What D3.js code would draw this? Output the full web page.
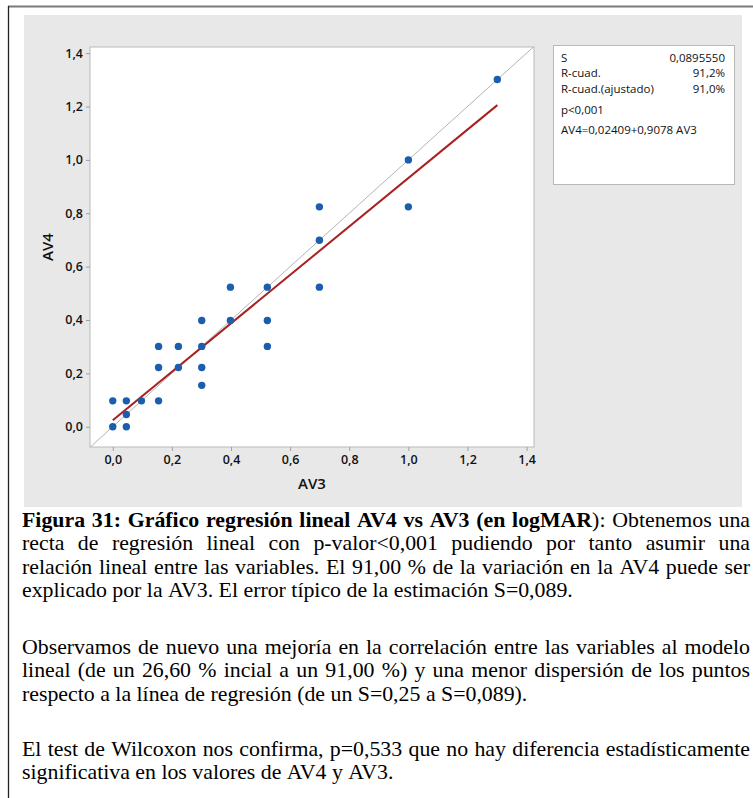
<!DOCTYPE html>
<html>
<head>
<meta charset="utf-8">
<script src="https://cdn.jsdelivr.net/npm/d3@7"></script>
<style>
  html, body { margin: 0; padding: 0; background: #fff; }
  svg { display: block; }
</style>
</head>
<body>
<svg id="fig" width="753" height="798"></svg>
<script>
// Visual acuity pairs in logMAR (AV3 on x, AV4 on y)
const av3 = [0, 0, 0.046, 0.046, 0.046, 0.097, 0.155, 0.155, 0.155, 0.222, 0.222,
             0.301, 0.301, 0.301, 0.301, 0.398, 0.398, 0.523, 0.523, 0.523,
             0.699, 0.699, 0.699, 1.0, 1.0, 1.301];
const av4 = [0, 0.097, 0.097, 0.046, 0, 0.097, 0.301, 0.222, 0.097, 0.301, 0.222,
             0.398, 0.301, 0.222, 0.155, 0.523, 0.398, 0.523, 0.398, 0.301,
             0.523, 0.824, 0.699, 1.0, 0.824, 1.301];

// Fitted regression
const fitIntercept = 0.02409;
const fitSlope = 0.9078;

// Axis ticks
const tickValues = [0, 0.2, 0.4, 0.6, 0.8, 1.0, 1.2, 1.4];
const xTitle = "AV3";
const yTitle = "AV4";

// Summary box
const statLabels = ["S", "R-cuad.", "R-cuad.(ajustado)"];
const statValues = ["0,0895550", "91,2%", "91,0%"];
const pLabel = "p<0,001";
const equation = "AV4=0,02409+0,9078 AV3";

// Caption: each line is a list of [text, bold] segments; last line of a paragraph is not justified
const paragraph1 = [
  [["Figura 31: Gráfico regresión lineal AV4 vs AV3 (en logMAR", true], ["): Obtenemos una", false]],
  [["recta de regresión lineal con p-valor<0,001 pudiendo por tanto asumir una", false]],
  [["relación lineal entre las variables. El 91,00 % de la variación en la AV4 puede ser", false]],
  [["explicado por la AV3. El error típico de la estimación S=0,089.", false]]
];
const paragraph2 = [
  [["Observamos de nuevo una mejoría en la correlación entre las variables al modelo", false]],
  [["lineal (de un 26,60 % incial a un 91,00 %) y una menor dispersión de los puntos", false]],
  [["respecto a la línea de regresión (de un S=0,25 a S=0,089).", false]]
];
const paragraph3 = [
  [["El test de Wilcoxon nos confirma, p=0,533 que no hay diferencia estadísticamente", false]],
  [["significativa en los valores de AV4 y AV3.", false]]
];

const svg = d3.select("#fig");
const chartFont = "'Open Sans', 'Noto Sans', sans-serif";

// Page frame
svg.append("line").attr("x1", 8).attr("x2", 753).attr("y1", 6.5).attr("y2", 6.5)
  .attr("stroke", "#7a7a7a").attr("stroke-width", 2);
svg.append("line").attr("x1", 8.5).attr("x2", 8.5).attr("y1", 6).attr("y2", 798)
  .attr("stroke", "#222").attr("stroke-width", 1.3);

// Graph panel background
svg.append("rect").attr("x", 24).attr("y", 15).attr("width", 718).attr("height", 492)
  .attr("fill", "#e8e8e8");

// Plot region
const plot = { left: 90, right: 534, top: 47, bottom: 447 };
const x = d3.scaleLinear().domain([-0.077, 1.425]).range([plot.left, plot.right]);
const y = d3.scaleLinear().domain([-0.076, 1.423]).range([plot.bottom, plot.top]);

svg.append("rect")
  .attr("x", plot.left).attr("y", plot.top)
  .attr("width", plot.right - plot.left).attr("height", plot.bottom - plot.top)
  .attr("fill", "#fff").attr("stroke", "#b9b9b9").attr("stroke-width", 1);

const fmt = v => d3.format(".1f")(v).replace(".", ",");

const xAxis = svg.append("g")
  .attr("transform", `translate(0,${plot.bottom})`)
  .call(d3.axisBottom(x).tickValues(tickValues).tickFormat(fmt).tickSize(4).tickPadding(4));
const yAxis = svg.append("g")
  .attr("transform", `translate(${plot.left},0)`)
  .call(d3.axisLeft(y).tickValues(tickValues).tickFormat(fmt).tickSize(4).tickPadding(3));

[xAxis, yAxis].forEach(g => {
  g.select(".domain").remove();
  g.selectAll(".tick line").attr("stroke", "#a0a0a0");
  g.selectAll(".tick text")
    .attr("fill", "#111")
    .style("font-family", chartFont)
    .style("font-size", "12.5px")
    .style("font-weight", 600);
});

// Axis titles
svg.append("text")
  .attr("x", (plot.left + plot.right) / 2).attr("y", 489)
  .attr("text-anchor", "middle")
  .style("font-family", chartFont).style("font-size", "15px").style("font-weight", 600)
  .attr("fill", "#111")
  .text(xTitle);
svg.append("text")
  .attr("transform", `translate(53,${(plot.top + plot.bottom) / 2}) rotate(-90)`)
  .attr("text-anchor", "middle")
  .style("font-family", chartFont).style("font-size", "15px").style("font-weight", 600)
  .attr("fill", "#111")
  .text(yTitle);

// Identity reference line across the plot
const dLo = Math.max(x.domain()[0], y.domain()[0]);
const dHi = Math.min(x.domain()[1], y.domain()[1]);
svg.append("line")
  .attr("x1", x(dLo)).attr("y1", y(dLo))
  .attr("x2", x(dHi)).attr("y2", y(dHi))
  .attr("stroke", "#b4b4b4").attr("stroke-width", 1);

// Regression line over the observed AV3 range
const [xMin, xMax] = d3.extent(av3);
const fitLine = d3.line().x(d => x(d)).y(d => y(fitIntercept + fitSlope * d));
svg.append("path")
  .attr("d", fitLine([xMin, xMax]))
  .attr("fill", "none").attr("stroke", "#a8201f").attr("stroke-width", 2);

// Observations
svg.append("g").selectAll("circle")
  .data(av3.map((v, i) => [v, av4[i]]))
  .join("circle")
  .attr("cx", d => x(d[0])).attr("cy", d => y(d[1]))
  .attr("r", 3.7)
  .attr("fill", "#1a5ead");

// Summary box
const box = { x: 553, y: 45, w: 181, h: 139 };
svg.append("rect")
  .attr("x", box.x + 0.5).attr("y", box.y + 0.5).attr("width", box.w).attr("height", box.h)
  .attr("fill", "#fff").attr("stroke", "#b9b9b9");
const statG = svg.append("g")
  .style("font-family", chartFont).style("font-size", "11.5px").attr("fill", "#111");
statLabels.forEach((lab, i) => {
  const by = 62 + i * 15.3;
  statG.append("text").attr("x", 561).attr("y", by).text(lab);
  statG.append("text").attr("x", 725).attr("y", by).attr("text-anchor", "end").text(statValues[i]);
});
statG.append("text").attr("x", 561).attr("y", 114).text(pLabel);
statG.append("text").attr("x", 561).attr("y", 134).text(equation);

// Caption with justified lines (text is slightly widened horizontally)
const capFont = "'Liberation Serif', 'Times New Roman', serif";
const capSize = 21;
const capScaleX = 1.04;
const capLeft = 22, capRight = 750;
const lineStep = 23.4;

function lineWords(segs) {
  const words = [[]];
  segs.forEach(([t, b]) => {
    t.split(/( )/).forEach(part => {
      if (part === " ") { if (words[words.length - 1].length) words.push([]); }
      else if (part) words[words.length - 1].push([part, b]);
    });
  });
  return words.filter(w => w.length);
}

const capG = svg.append("g")
  .attr("transform", `translate(${capLeft},0) scale(${capScaleX},1)`)
  .style("font-family", capFont).style("font-size", capSize + "px").attr("fill", "#000");
const capWidth = (capRight - capLeft) / capScaleX;

function drawParagraph(lines, firstBaseline) {
  lines.forEach((segs, li) => {
    const by = firstBaseline + li * lineStep;
    const justify = li < lines.length - 1;
    const words = lineWords(segs);
    const nodes = words.map(w => {
      const t = capG.append("text").attr("y", by);
      w.forEach(([txt, b]) => t.append("tspan").style("font-weight", b ? "bold" : "normal").text(txt));
      return t;
    });
    const widths = nodes.map(n => n.node().getComputedTextLength());
    const total = d3.sum(widths);
    const gap = justify && words.length > 1
      ? (capWidth - total) / (words.length - 1)
      : capSize * 0.25;
    let cx = 0;
    nodes.forEach((n, i) => { n.attr("x", cx); cx += widths[i] + gap; });
  });
}

drawParagraph(paragraph1, 527);
drawParagraph(paragraph2, 654);
drawParagraph(paragraph3, 756);
</script>
</body>
</html>
